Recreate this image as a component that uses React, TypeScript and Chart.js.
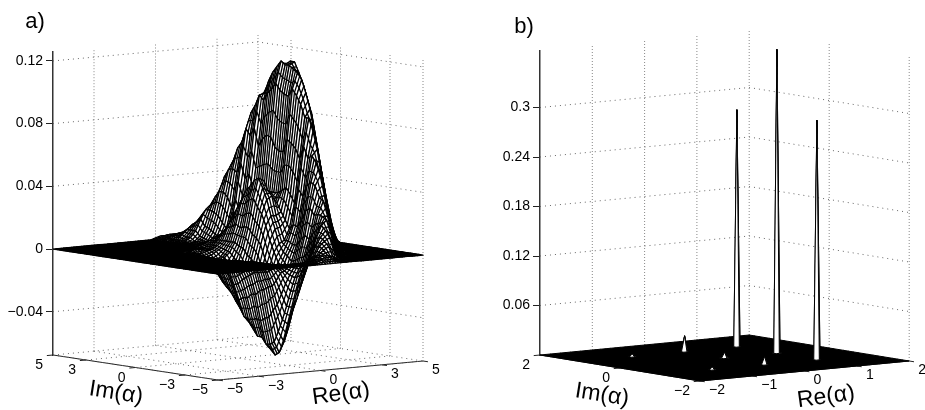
import React, { useEffect, useRef } from "react";
import { Chart, registerables } from "chart.js";

Chart.register(...registerables);

// ---------- panel a: Wigner surface, heights (unit 0.001)
const reTicksA = [-5, -3, 0, 3, 5];
const imTicksA = [5, 3, 0, -3, -5];
const zTicksA = [-0.04, 0, 0.04, 0.08, 0.12];
const zLabelsA = ["\u22120.04", "0", "0.04", "0.08", "0.12"];
const reLabelsA = ["\u22125", "\u22123", "0", "3", "5"];
const imLabelsA = ["5", "3", "0", "\u22123", "\u22125"];
// one row per Im = 5, 4.75 ... -5; first entry = first Re column (0 is Re = -2, step 0.25)
const surfaceRowsA = [
  [8,1,2,2,2,2,1,1],
  [8,1,2,3,3,3,2,1],
  [8,1,2,3,4,4,3,3,2,1],
  [8,1,1,3,5,7,7,6,5,3,2,1],
  [9,1,4,7,10,11,10,8,6,4,2,1],
  [9,1,3,7,12,16,16,14,11,7,4,2,1],
  [9,1,3,7,14,20,23,22,18,13,8,5,2,1],
  [10,1,4,10,20,28,32,30,25,18,12,6,3,1],
  [10,1,3,9,19,32,41,41,37,28,19,11,6,3,1],
  [10,1,2,7,17,32,46,52,49,40,29,19,10,5,2,1],
  [9,1,1,1,5,13,29,47,60,61,54,42,29,17,9,4,2,1],
  [8,1,2,3,3,3,10,23,45,64,73,69,56,41,26,15,7,3,1],
  [7,1,2,4,6,7,8,13,28,51,73,83,78,64,46,30,17,8,4,1],
  [8,2,4,7,9,9,11,21,42,69,88,89,79,61,42,25,13,6,3,1],
  [8,2,5,10,14,14,13,23,45,74,95,96,85,66,45,26,14,7,3,1],
  [3,-1,-2,-2,-1,0,2,5,13,20,23,21,22,36,63,92,104,98,80,58,37,21,10,5,2],
  [2,-1,-2,-3,-4,-3,-1,1,5,14,25,31,26,22,34,68,97,110,103,85,62,40,22,11,5,2],
  [1,-1,-2,-4,-6,-7,-6,-4,0,5,16,29,37,32,24,34,71,100,114,109,90,64,41,23,11,5,2],
  [1,-1,-2,-5,-8,-10,-8,-4,-1,5,14,29,40,39,30,36,70,104,118,114,95,70,42,24,12,5,2],
  [1,-1,-2,-5,-10,-14,-14,-10,-4,3,15,32,44,42,34,36,64,100,116,118,104,80,55,32,17,8,3],
  [1,-1,-3,-7,-12,-18,-20,-15,-7,2,15,33,46,44,35,36,62,98,116,118,104,80,55,32,17,8,3],
  [1,-1,-3,-7,-14,-21,-25,-21,-12,-2,11,28,40,38,30,36,62,97,114,112,103,79,54,32,17,8,3],
  [1,-1,-3,-7,-15,-23,-30,-28,-16,-4,9,24,33,35,30,38,70,102,112,105,93,69,42,23,12,5,2],
  [1,-1,-3,-7,-15,-24,-34,-35,-23,-8,5,17,23,23,25,40,68,98,108,97,85,62,40,22,11,3],
  [1,-1,-3,-8,-18,-28,-39,-43,-32,-17,-3,8,15,16,20,36,65,93,100,87,70,50,32,16,4],
  [1,-1,-3,-8,-17,-26,-40,-47,-42,-27,-10,1,6,8,15,31,59,85,90,73,55,35,18,5],
  [1,-1,-3,-7,-14,-26,-40,-51,-47,-32,-15,-5,1,8,18,40,67,85,77,58,40,20,7],
  [1,-1,-2,-5,-12,-23,-39,-51,-55,-40,-21,-9,-1,6,17,36,60,77,62,43,23,9,1],
  [2,-1,-4,-10,-23,-40,-55,-59,-47,-33,-16,-4,6,22,43,62,66,48,27,12,3],
  [2,-1,-3,-8,-20,-38,-55,-62,-55,-38,-19,-3,10,28,46,58,50,30,13,4],
  [2,-1,-3,-8,-19,-37,-53,-60,-53,-37,-17,-1,13,30,44,50,33,16,5],
  [3,-2,-7,-17,-32,-46,-52,-44,-30,-13,0,11,26,37,38,20,7],
  [3,-2,-7,-16,-28,-38,-41,-33,-22,-9,3,15,27,35,23,9,1],
  [3,-1,-5,-12,-21,-29,-30,-25,-15,-4,7,18,26,26,12,2],
  [3,-1,-3,-7,-14,-19,-19,-14,-7,3,13,21,24,14,3],
  [3,-1,-2,-5,-8,-10,-9,-4,1,8,14,18,16,4],
  [4,-1,-2,-3,-4,-2,0,3,9,12,14,6],
  [8,1,2,4,7,9,6,1],
  [8,1,2,4,4,3,1],
  [8,1,2,2,2,1],
  [8],
];

// ---------- panel b: peaks over a flat floor
const reTicksB = [-2, -1, 0, 1, 2];
const imTicksB = [2, 0, -2];
const zTicksB = [0.06, 0.12, 0.18, 0.24, 0.3];
const zLabelsB = ["0.06", "0.12", "0.18", "0.24", "0.3"];
const reLabelsB = ["\u22122", "\u22121", "0", "1", "2"];
const imLabelsB = ["2", "0", "\u22122"];
const peakRe = [1, 1, 1, 0, 0, 0, -1, -1];
const peakIm = [1, 0, -1, 1, 0, -1, 1, -1];
const peakHeight = [0.287, 0.368, 0.29, 0.019, 0.007, 0.0097, 0.003, 0.003];

type V3 = [number, number, number];

const FONT = '"Liberation Sans", Arial, sans-serif';

interface Panel {
  left: number; width: number; axisX: number; top: number; bottom: number; areaW: number;
  reMin: number; reMax: number; imMin: number; imMax: number; zMin: number; zMax: number;
  rx: number; ix: number; ry: number; iy: number; zScale: number;
  reTicks: number[]; imTicks: number[]; zTicks: number[]; zLabels: string[];
  reLabels: string[]; imLabels: string[]; tickLen: number;
  name: string; nameX: number; nameY: number;
  imTitleX: number; imTitleY: number; reTitleX: number; reTitleY: number;
}

const panelA: Panel = {
  left: 0, width: 460, axisX: 53, top: 52, bottom: 355, areaW: 370,
  reMin: -5, reMax: 5, imMin: -5, imMax: 5, zMin: -0.0676, zMax: 0.1257,
  rx: 20.5, ix: 16.5, ry: -1.9, iy: 2.5, zScale: 1567,
  reTicks: reTicksA, imTicks: imTicksA, zTicks: zTicksA, zLabels: zLabelsA,
  reLabels: reLabelsA, imLabels: imLabelsA, tickLen: 0.3,
  name: "a)", nameX: 35, nameY: 22,
  imTitleX: 116, imTitleY: 393, reTitleX: 341, reTitleY: 394,
};
const panelB: Panel = {
  left: 460, width: 465, axisX: 80, top: 51, bottom: 355, areaW: 369,
  reMin: -2, reMax: 2, imMin: -2, imMax: 2, zMin: 0, zMax: 0.3685,
  rx: 52.3, ix: 40, ry: -5, iy: 6.5, zScale: 825,
  reTicks: reTicksB, imTicks: imTicksB, zTicks: zTicksB, zLabels: zLabelsB,
  reLabels: reLabelsB, imLabels: imLabelsB, tickLen: 0.12,
  name: "b)", nameX: 64, nameY: 27,
  imTitleX: 142, imTitleY: 395, reTitleX: 366, reTitleY: 397,
};

function toData(p: Panel, v: V3) {
  const a = v[0] - p.reMin;
  const b = p.imMax - v[1];
  return { x: a * p.rx + b * p.ix, y: v[2] - (a * p.ry + b * p.iy) / p.zScale };
}

function lineSet(p: Panel, pts: V3[], color: string, width: number, dash: number[] = []) {
  return {
    data: pts.map((v) => toData(p, v)),
    showLine: true, pointRadius: 0, borderColor: color, borderWidth: width,
    borderDash: dash, clip: false, fill: false, tension: 0,
  };
}

function frameSets(p: Panel) {
  const out: any[] = [];
  const G = "#666";
  const V = "#888";
  const dash = [1, 4];
  const vdash = [1, 2];
  for (const z of p.zTicks)
    out.push(lineSet(p, [[p.reMin, p.imMax, z], [p.reMax, p.imMax, z], [p.reMax, p.imMin, z]], G, 1, dash));
  for (const re of p.reTicks) {
    if (re !== p.reMin) out.push(lineSet(p, [[re, p.imMax, p.zMin], [re, p.imMax, p.zMax]], V, 1, vdash));
    out.push(lineSet(p, [[re, p.imMax, p.zMin], [re, p.imMin, p.zMin]], G, 1, dash));
  }
  for (const im of p.imTicks) {
    if (im !== p.imMax) out.push(lineSet(p, [[p.reMax, im, p.zMin], [p.reMax, im, p.zMax]], V, 1, vdash));
    out.push(lineSet(p, [[p.reMin, im, p.zMin], [p.reMax, im, p.zMin]], G, 1, dash));
  }
  out.push(lineSet(p, [[p.reMin, p.imMax, p.zMin], [p.reMin, p.imMin, p.zMin], [p.reMax, p.imMin, p.zMin]], "#222", 1));
  for (const im of p.imTicks)
    out.push(lineSet(p, [[p.reMin, im, p.zMin], [p.reMin - p.tickLen, im, p.zMin]], "#222", 1));
  for (const re of p.reTicks)
    out.push(lineSet(p, [[re, p.imMin, p.zMin], [re, p.imMin - p.tickLen, p.zMin]], "#222", 1));
  return out;
}

function quadSets(p: Panel, quads: { pts: V3[]; fill: string }[], lw: number, midLines: boolean) {
  const depth = (q: { pts: V3[] }) =>
    q.pts.reduce((s, v) => s + p.ix * v[0] + p.rx * v[1], 0);
  const sorted = quads.slice().sort((s, t) => depth(s) - depth(t)); // nearest first: index 0 is drawn last
  return sorted.map((q) => ({
    ...lineSet(p, [...q.pts, q.pts[0]], "#000", lw),
    faceColor: q.fill,
    midLines,
    borderJoinStyle: "round",
  }));
}

function surfaceA(p: Panel) {
  const N = 41;
  const step = 0.25;
  const heights: number[][] = [];
  for (let i = 0; i < N; i++) {
    const row = new Array(N).fill(0);
    const src = surfaceRowsA[i];
    for (let k = 1; k < src.length; k++) row[12 + src[0] + k - 1] = src[k] / 1000;
    heights.push(row);
  }
  const quads: { pts: V3[]; fill: string }[] = [];
  for (let i = 0; i < N - 1; i++)
    for (let j = 0; j < N - 1; j++) {
      const pts: V3[] = [
        [p.reMin + j * step, p.imMax - i * step, heights[i][j]],
        [p.reMin + (j + 1) * step, p.imMax - i * step, heights[i][j + 1]],
        [p.reMin + (j + 1) * step, p.imMax - (i + 1) * step, heights[i + 1][j + 1]],
        [p.reMin + j * step, p.imMax - (i + 1) * step, heights[i + 1][j]],
      ];
      const flat = pts.every((v) => v[2] === 0);
      quads.push({ pts, fill: flat ? "#000" : "#fff" });
    }
  return quadSets(p, quads, 1.3, true);
}

function surfaceB(p: Panel) {
  const floor: { pts: V3[]; fill: string }[] = [
    { pts: [[p.reMin, p.imMax, 0], [p.reMax, p.imMax, 0], [p.reMax, p.imMin, 0], [p.reMin, p.imMin, 0]], fill: "#000" },
  ];
  const w = 0.06;
  const quads: { pts: V3[]; fill: string }[] = [];
  peakRe.forEach((re, n) => {
    const im = peakIm[n];
    const h = peakHeight[n];
    for (const sr of [-1, 1])
      for (const si of [-1, 1])
        quads.push({
          pts: [
            [re, im, h],
            [re + sr * w, im, 0],
            [re + sr * w, im + si * w, 0],
            [re, im + si * w, 0],
          ],
          fill: "#fff",
        });
  });
  return [...quadSets(p, quads, 1, false), ...quadSets(p, floor, 1, false)];
}

const facePlugin = {
  id: "faces",
  beforeDatasetDraw(chart: any, args: any) {
    const ds = chart.data.datasets[args.index];
    if (!ds.faceColor) return;
    const pts = args.meta.data;
    const ctx = chart.ctx;
    ctx.save();
    ctx.beginPath();
    pts.forEach((e: any, i: number) => (i ? ctx.lineTo(e.x, e.y) : ctx.moveTo(e.x, e.y)));
    ctx.closePath();
    ctx.fillStyle = ds.faceColor;
    ctx.fill();
    if (ds.midLines) {
      // the plotted mesh is finer than the sampled table: a centre cross on each face
      const [a, b, c, d] = pts;
      ctx.beginPath();
      ctx.moveTo((a.x + b.x) / 2, (a.y + b.y) / 2);
      ctx.lineTo((d.x + c.x) / 2, (d.y + c.y) / 2);
      ctx.moveTo((a.x + d.x) / 2, (a.y + d.y) / 2);
      ctx.lineTo((b.x + c.x) / 2, (b.y + c.y) / 2);
      ctx.strokeStyle = "#000";
      ctx.lineWidth = 1.3;
      ctx.stroke();
    }
    ctx.restore();
  },
};

function textPlugin(p: Panel) {
  return {
    id: "texts",
    afterDraw(chart: any) {
      const ctx = chart.ctx;
      const sx = chart.scales.x;
      const sy = chart.scales.y;
      const put = (v: V3) => {
        const d = toData(p, v);
        return [sx.getPixelForValue(d.x), sy.getPixelForValue(d.y)];
      };
      ctx.save();
      ctx.fillStyle = "#000";
      ctx.textBaseline = "middle";
      ctx.font = `14px ${FONT}`;
      ctx.textAlign = "right";
      p.imTicks.forEach((im, i) => {
        const [x, y] = put([p.reMin, im, p.zMin]);
        ctx.fillText(p.imLabels[i], x - 10, y + 10.5);
      });
      ctx.textAlign = "left";
      p.reTicks.forEach((re, i) => {
        const [x, y] = put([re, p.imMin, p.zMin]);
        ctx.fillText(p.reLabels[i], x + 9, y + 9.5);
      });
      ctx.textAlign = "center";
      ctx.font = `22px ${FONT}`;
      ctx.fillText(p.name, p.nameX, p.nameY);
      ctx.font = `23px ${FONT}`;
      const title = (t: string, x: number, y: number, deg: number) => {
        ctx.save();
        ctx.translate(x, y);
        ctx.rotate((deg * Math.PI) / 180);
        ctx.fillText(t, 0, 0);
        ctx.restore();
      };
      title("Im(\u03b1)", p.imTitleX, p.imTitleY, 9);
      title("Re(\u03b1)", p.reTitleX, p.reTitleY, -8);
      ctx.restore();
    },
  };
}

function makeChart(canvas: HTMLCanvasElement, p: Panel, surface: any[]) {
  return new Chart(canvas, {
    type: "scatter",
    data: { datasets: [...surface, ...frameSets(p)] as any },
    plugins: [facePlugin, textPlugin(p)] as any,
    options: {
      animation: false,
      responsive: false,
      devicePixelRatio: 1,
      layout: {
        padding: { left: 0, top: p.top, right: p.width - p.axisX - p.areaW, bottom: 410 - p.bottom },
      },
      plugins: { legend: { display: false }, tooltip: { enabled: false } },
      events: [],
      scales: {
        x: { type: "linear", display: false, min: 0, max: p.areaW },
        y: {
          type: "linear",
          min: p.zMin,
          max: p.zMax,
          afterFit: (s: any) => {
            s.width = p.axisX;
            s.paddingTop = 0;
            s.paddingBottom = 0;
          },
          afterBuildTicks: (s: any) => {
            s.ticks = p.zTicks.map((value) => ({ value }));
          },
          ticks: {
            color: "#000",
            padding: 3,
            autoSkip: false,
            font: { family: FONT, size: 14 },
            callback: (v: any) => {
              const i = p.zTicks.indexOf(v);
              return i >= 0 ? p.zLabels[i] : "";
            },
          },
          border: { display: true, color: "#333", width: 1.5 },
          grid: { drawOnChartArea: false, drawTicks: true, tickLength: 7, color: "#222" },
        },
      },
    } as any,
  });
}

export default function App() {
  const ra = useRef<HTMLCanvasElement>(null);
  const rb = useRef<HTMLCanvasElement>(null);
  useEffect(() => {
    const a = makeChart(ra.current!, panelA, surfaceA(panelA));
    const b = makeChart(rb.current!, panelB, surfaceB(panelB));
    return () => {
      a.destroy();
      b.destroy();
    };
  }, []);
  const style = (p: Panel): React.CSSProperties => ({ position: "absolute", left: p.left, top: 0, width: p.width, height: 410 });
  return (
    <div style={{ position: "fixed", left: 0, top: 0, width: 925, height: 410, background: "#fff", overflow: "hidden" }}>
      <canvas ref={ra} width={panelA.width} height={410} style={style(panelA)} />
      <canvas ref={rb} width={panelB.width} height={410} style={style(panelB)} />
    </div>
  );
}
